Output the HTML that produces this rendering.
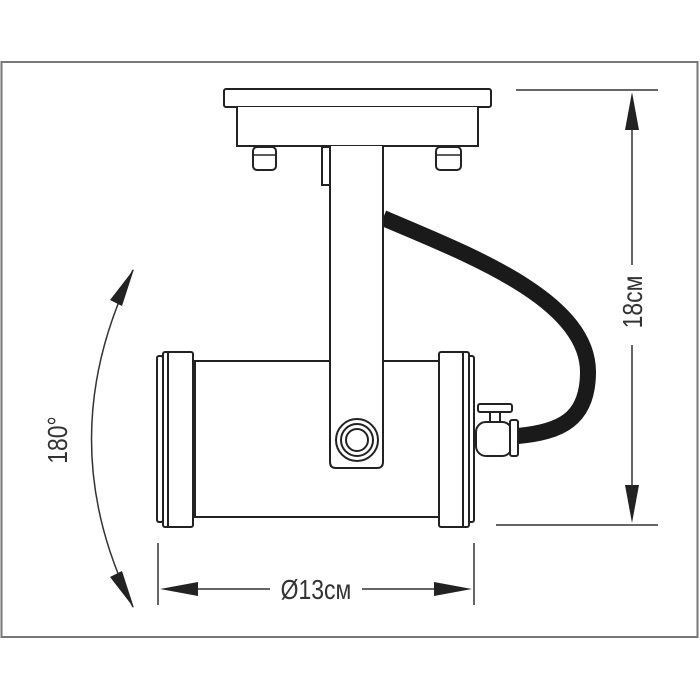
<!DOCTYPE html>
<html><head><style>body{margin:0;background:#fff}svg{display:block}</style></head><body>
<svg width="700" height="700" viewBox="0 0 700 700" xmlns="http://www.w3.org/2000/svg">
<rect x="0" y="0" width="700" height="700" fill="#fff"/>
<rect x="1.5" y="62" width="696" height="575" fill="none" stroke="#777" stroke-width="2"/>
<g fill="none" stroke="#222" stroke-width="2">
<path d="M383,218 C470,255 588,300 588,372 C588,420 560,432 518,436" stroke="#1a1a1a" stroke-width="16"/>
<rect x="224" y="89" width="267" height="18" rx="2" fill="#fff"/>
<path d="M237,107 V146 H478 V107" fill="#fff"/>
<rect x="253" y="147" width="23" height="23" rx="4" fill="#fff"/>
<line x1="253" y1="155" x2="276" y2="155" stroke-width="1.5"/>
<rect x="436" y="147" width="25" height="23" rx="4" fill="#fff"/>
<line x1="436" y1="155" x2="461" y2="155" stroke-width="1.5"/>
<rect x="322" y="147" width="8" height="38" fill="#fff"/>
<rect x="195" y="361" width="244" height="156" fill="#fff"/>
<rect x="157" y="356" width="6" height="166" rx="2" fill="#fff"/>
<rect x="163" y="352" width="30" height="175" rx="2" fill="#fff"/>
<line x1="168" y1="352" x2="168" y2="527"/>
<rect x="468" y="356" width="6" height="166" rx="2" fill="#fff"/>
<rect x="439" y="352" width="30" height="175" rx="2" fill="#fff"/>
<line x1="463" y1="352" x2="463" y2="527"/>
<path d="M330,146 V462 Q330,468 336,468 H377 Q383,468 383,462 V146" fill="#fff"/>
<circle cx="357" cy="440" r="21"/>
<circle cx="357" cy="440" r="16"/>
<circle cx="357" cy="440" r="11"/>
<rect x="478" y="404" width="34" height="8" rx="2" fill="#fff"/>
<rect x="490" y="412" width="10" height="12" fill="#fff"/>
<rect x="476" y="422" width="36" height="34" rx="10" fill="#fff"/>
<rect x="510" y="420" width="8" height="36" rx="2" fill="#fff"/>
</g>
<g stroke="#333" stroke-width="1.5">
<line x1="516" y1="90" x2="658" y2="90"/>
<line x1="496" y1="525" x2="658" y2="525"/>
<line x1="632" y1="125" x2="632" y2="265"/>
<line x1="632" y1="345" x2="632" y2="490"/>
<line x1="158" y1="543" x2="158" y2="605"/>
<line x1="474" y1="543" x2="474" y2="605"/>
<line x1="195" y1="589" x2="270" y2="589"/>
<line x1="362" y1="589" x2="440" y2="589"/>
<path d="M133,270 Q50,440 133,607" fill="none"/>
</g>
<g fill="#222">
<polygon points="632,92 625,130 639,130"/>
<polygon points="632,523 625,485 639,485"/>
<polygon points="160,589 198,582 198,596"/>
<polygon points="472,589 434,582 434,596"/>
<polygon points="134,269 110,300 122,306"/>
<polygon points="134,608 110,577 122,571"/>
</g>
<g font-family="Liberation Sans, sans-serif" font-size="28" fill="#333" text-anchor="middle">
<text transform="translate(316,599) scale(0.82,1)">Ø13см</text>
<text transform="translate(642,302) rotate(-90) scale(0.82,1)">18см</text>
<text transform="translate(67,440) rotate(-90) scale(0.82,1)">180°</text>
</g>
</svg>
</body></html>
